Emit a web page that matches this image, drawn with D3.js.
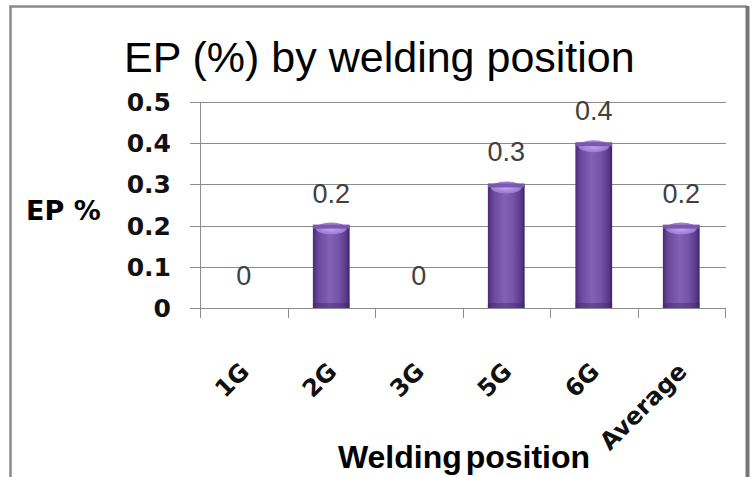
<!DOCTYPE html>
<html><head><meta charset="utf-8">
<script src="https://cdn.jsdelivr.net/npm/d3@7"></script>
<style>body{margin:0;background:#fff}svg{display:block}</style>
</head><body>
<script>
const categories = ["1G","2G","3G","5G","6G","Average"];
const values = [0, 0.2, 0, 0.3, 0.4, 0.2];
const valueLabels = ["0","0.2","0","0.3","0.4","0.2"];
const yTicks = [0, 0.1, 0.2, 0.3, 0.4, 0.5];
const yTickLabels = ["0","0.1","0.2","0.3","0.4","0.5"];
const title = "EP (%) by welding position";
const yTitle = "EP %";
const xTitle = "Welding position";

const W = 753, H = 477;
const svg = d3.select("body").append("svg").attr("width", W).attr("height", H);
const defs = svg.append("defs");
const g1 = defs.append("linearGradient").attr("id","barG").attr("x1","0").attr("x2","1").attr("y1","0").attr("y2","0");
[[0,"#4a2b78"],[0.15,"#6a489c"],[0.45,"#8262b4"],[0.7,"#7553a8"],[0.9,"#5a3a8a"],[1,"#3e2266"]].forEach(([o,c])=>g1.append("stop").attr("offset",o).attr("stop-color",c));
const g2 = defs.append("radialGradient").attr("id","topG").attr("cx","0.5").attr("cy","0.5").attr("r","0.5");
g2.append("stop").attr("offset",0).attr("stop-color","#c6a6f2");
g2.append("stop").attr("offset",1).attr("stop-color","#9a78d0");

const BOLD = "DejaVu Sans, Verdana, sans-serif";
const SANS = "Liberation Sans, Arial, sans-serif";

// frame
svg.append("path").attr("d","M10.5,477 L10.5,6.5 L747,6.5").attr("fill","none").attr("stroke","#8a8a8a").attr("stroke-width",2.5);
svg.append("line").attr("x1",747.5).attr("x2",747.5).attr("y1",6).attr("y2",477).attr("stroke","#777").attr("stroke-width",4);

const x = d3.scaleBand().domain(categories).range([200, 725]).paddingInner(0.58).paddingOuter(0.29);
const xb = d3.scaleBand().domain(categories).range([200, 725]);
const y = d3.scaleLinear().domain([0, 0.5]).range([308, 102]);

// gridlines
svg.append("g").selectAll("line").data(yTicks).join("line")
  .attr("x1",190).attr("x2",726).attr("y1",d=>Math.round(y(d))+0.5).attr("y2",d=>Math.round(y(d))+0.5)
  .attr("stroke","#8c8c8c").attr("stroke-width",1);
// y axis line
svg.append("line").attr("x1",200.5).attr("x2",200.5).attr("y1",102).attr("y2",318).attr("stroke","#8c8c8c");
// x ticks at band boundaries
const bounds = categories.map(c=>xb(c)).concat([xb.range()[1]]);
svg.append("g").selectAll("line").data(bounds).join("line")
  .attr("x1",d=>Math.round(d)+0.5).attr("x2",d=>Math.round(d)+0.5).attr("y1",308).attr("y2",318)
  .attr("stroke","#8c8c8c");

// y tick labels
svg.append("g").selectAll("text").data(yTicks).join("text")
  .attr("x",171).attr("y",d=>y(d)+9).attr("text-anchor","end")
  .attr("font-family",BOLD).attr("font-weight","bold").attr("font-size",25)
  .attr("fill","#111").text((d,i)=>yTickLabels[i]);

// bars
const bars = svg.append("g").selectAll("g").data(categories.map((c,i)=>({c,v:values[i],l:valueLabels[i]}))).join("g");
bars.filter(d=>d.v>0).append("rect")
  .attr("x",d=>x(d.c)).attr("width",x.bandwidth()).attr("y",d=>y(d.v)).attr("height",d=>y(0)-y(d.v))
  .attr("fill","url(#barG)");
bars.filter(d=>d.v>0).append("rect")
  .attr("x",d=>x(d.c)).attr("width",x.bandwidth()).attr("y",d=>y(0)-5).attr("height",5)
  .attr("fill","#3e2266").attr("opacity",0.4);
bars.filter(d=>d.v>0).append("ellipse")
  .attr("cx",d=>x(d.c)+x.bandwidth()/2).attr("cy",d=>y(d.v)+3).attr("rx",x.bandwidth()/2-3).attr("ry",6)
  .attr("fill","url(#topG)");
bars.filter(d=>d.v>0).append("rect")
  .attr("x",d=>x(d.c)).attr("width",x.bandwidth()).attr("y",d=>y(d.v)-1).attr("height",4)
  .attr("fill","#7a58ae");

// value labels
bars.append("text")
  .attr("x",d=>xb(d.c)+xb.bandwidth()/2).attr("y",d=>y(d.v)-23)
  .attr("text-anchor","middle").attr("font-family",SANS)
  .attr("font-size",27).attr("fill","#404040").text(d=>d.l);

// x tick labels rotated
svg.append("g").selectAll("text").data(categories).join("text")
  .attr("transform",d=>`translate(${xb(d)+xb.bandwidth()/2+7},${373}) rotate(-45)`)
  .attr("text-anchor","end")
  .attr("font-family",BOLD).attr("font-weight","bold").attr("font-size",24)
  .attr("fill","#111").text(d=>d);

// titles
svg.append("text").attr("x",124).attr("y",72).attr("font-family",SANS)
  .attr("font-size",43).attr("fill","#000").text(title);
svg.append("text").attr("x",26).attr("y",220).attr("font-family",BOLD)
  .attr("font-weight","bold").attr("font-size",27).attr("fill","#000").text(yTitle);
svg.append("text").attr("x",464).attr("y",468).attr("text-anchor","middle").attr("font-family",SANS)
  .attr("font-weight","bold").attr("font-size",32).attr("word-spacing",-5).attr("fill","#000").text(xTitle);
</script>
</body></html>
